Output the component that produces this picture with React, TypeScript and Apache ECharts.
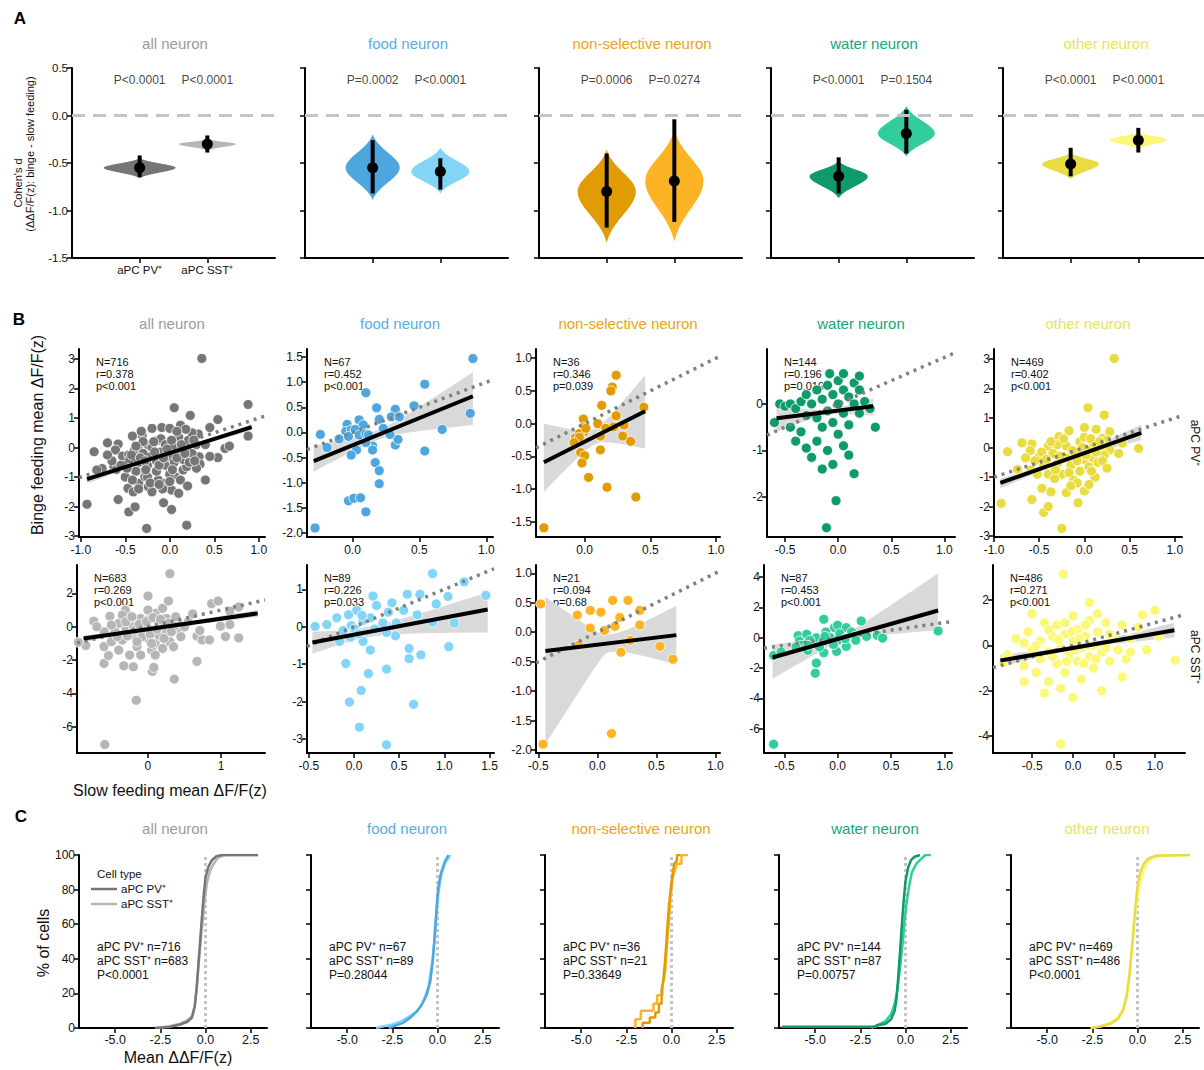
import React, { useEffect, useRef } from "react";
import * as echarts from "echarts";

const FONT = '"Liberation Sans", Arial, Helvetica, sans-serif';

// ---------- shared ----------
const groups = ["all neuron", "food neuron", "non-selective neuron", "water neuron", "other neuron"];
const titleColors = ["#9b9b9b", "#55aee6", "#eba414", "#17a67a", "#e6e35c"];
const pvColors = ["#767676", "#4ea6df", "#e19c04", "#0e9a6b", "#e8dc40"];
const sstColors = ["#b6b6b6", "#82d5f6", "#fcb424", "#33cc9d", "#fbf777"];

// ---------- A: Cohen's d violins ----------
const violinMean = [[-0.55, -0.30], [-0.55, -0.59], [-0.80, -0.69], [-0.64, -0.19], [-0.51, -0.26]];
const ciLow = [[-0.65, -0.39], [-0.82, -0.78], [-1.18, -1.12], [-0.82, -0.40], [-0.64, -0.39]];
const ciHigh = [[-0.42, -0.21], [-0.26, -0.45], [-0.40, -0.04], [-0.44, 0.06], [-0.34, -0.13]];
const violinTop = [[-0.45, -0.25], [-0.20, -0.34], [-0.36, -0.15], [-0.48, 0.10], [-0.39, -0.17]];
const violinBottom = [[-0.66, -0.37], [-0.89, -0.82], [-1.34, -1.33], [-0.87, -0.43], [-0.67, -0.35]];
const violinWidth = [[0.53, 0.42], [0.40, 0.43], [0.43, 0.43], [0.43, 0.42], [0.42, 0.42]];
const pLabels = [
  ["P<0.0001", "P<0.0001"],
  ["P=0.0002", "P<0.0001"],
  ["P=0.0006", "P=0.0274"],
  ["P<0.0001", "P=0.1504"],
  ["P<0.0001", "P<0.0001"],
];
const cellTypes = ["aPC PV⁺", "aPC SST⁺"];
const aYTicks = [-1.5, -1, -0.5, 0, 0.5];

// ---------- B: scatter ----------
const allPV = [
  [0.36, 3.02], [0.88, 1.46], [0.05, 1.35], [0.23, 1.09], [0.54, 0.95], [0.12, 0.76], [-0.09, 0.68], [-0.2, 0.65],
  [0.0, 0.65], [-0.31, 0.42], [-0.42, 0.39], [-0.7, 0.16], [-0.58, 0.12], [-0.85, -0.14], [-0.61, -0.08], [-0.53, -0.29],
  [-0.46, -0.25], [-0.35, -0.08], [-0.24, 0.08], [-0.13, 0.25], [0.21, 0.25], [0.32, 0.46], [0.45, 0.68], [0.33, -0.31],
  [0.34, -0.56], [0.4, -1.1], [0.54, -0.34], [0.62, -0.03], [0.67, 0.05], [0.88, 0.39], [-0.76, -0.71], [-0.82, -0.76],
  [-0.6, -0.74], [-0.46, -0.54], [-0.47, -1.38], [-0.41, -1.5], [-0.35, -1.21], [-0.28, -0.99], [-0.24, -1.33], [-0.2, -1.5],
  [-0.13, -1.1], [-0.05, -1.21], [0.02, -1.44], [0.1, -1.55], [0.06, -0.99], [0.15, -0.76], [0.19, -0.65], [-0.93, -1.92],
  [-0.58, -1.76], [-0.46, -2.18], [-0.39, -2.01], [-0.26, -2.74], [-0.07, -1.87], [0.02, -2.1], [0.19, -2.63],
  [-0.45, -0.4], [-0.4, -0.1], [-0.35, -0.5], [-0.3, -0.2], [-0.3, 0.2], [-0.25, -0.6], [-0.2, -0.3], [-0.2, 0.0],
  [-0.15, -0.8], [-0.15, -0.45], [-0.1, -0.15], [-0.1, 0.3], [-0.05, -0.6], [-0.05, 0.1], [0.0, -0.3], [0.0, -0.9],
  [0.05, 0.0], [0.05, -0.5], [0.1, -0.2], [0.1, 0.35], [0.15, -0.4], [0.2, 0.0], [0.25, -0.2], [0.25, 0.5], [0.3, 0.1],
  [0.3, -0.7], [-0.38, -0.8], [-0.5, -1.0], [-0.42, -1.1], [-0.25, -1.0], [0.12, -1.1], [0.2, -1.3], [-0.08, -1.4],
  [-0.32, 0.55], [0.18, 0.62], [0.08, 0.55],
  [-0.48, -0.7], [-0.43, -0.25], [-0.38, 0.05], [-0.33, -0.35], [-0.28, -0.45], [-0.27, -0.75], [-0.22, -1.2],
  [-0.18, 0.2], [-0.17, -0.15], [-0.12, -0.6], [-0.07, -0.35], [-0.03, -0.05], [0.02, 0.25], [0.03, -0.75],
  [0.08, -0.35], [0.13, 0.1], [0.17, -0.2], [0.22, -0.5], [0.27, 0.25], [0.28, -0.45], [-0.55, -0.6], [-0.65, -0.45],
  [-0.7, -0.25], [0.4, 0.1], [0.45, -0.3], [-0.12, -1.25], [0.0, -1.15], [-0.35, -1.4],
];
const foodPV = [
  [0.9, 1.47], [0.54, 0.96], [0.1, 0.79], [0.18, 0.49], [0.46, 0.53], [0.32, 0.46], [0.29, 0.31], [0.35, 0.31],
  [0.2, 0.26], [0.05, 0.25], [0.08, 0.15], [-0.04, 0.16], [-0.24, -0.04], [-0.1, -0.13], [-0.19, -0.3], [0.88, 0.38],
  [0.67, 0.06], [0.54, -0.37], [0.32, -0.25], [0.34, -0.14], [0.28, -0.04], [0.23, 0.08], [0.15, -0.27], [0.15, -0.35],
  [0.1, -0.2], [0.03, -0.35], [-0.01, -0.45], [0.17, -0.6], [0.2, -0.76], [0.2, -1.02], [-0.03, -1.36], [0.01, -1.31],
  [0.06, -1.3], [0.1, -1.58], [-0.28, -1.9], [-0.05, 0.02], [-0.01, 0.05], [0.02, 0.06], [0.05, -0.05], [-0.03, -0.08],
  [0.1, -0.03], [0.12, -0.05],
];
const nonselPV = [
  [-0.31, -1.59], [0.24, 0.74], [0.21, 0.56], [0.2, 0.5], [0.13, 0.28], [0.45, 0.25], [0.24, 0.12], [-0.01, 0.07],
  [0.1, 0.0], [0.22, -0.05], [0.16, -0.07], [0.3, -0.02], [0.29, -0.19], [0.12, -0.19], [0.0, -0.05], [0.0, -0.12],
  [-0.04, -0.15], [-0.07, -0.22], [-0.04, -0.21], [-0.08, -0.29], [0.35, -0.27], [0.12, -0.4], [-0.03, -0.44],
  [0.0, -0.49], [-0.02, -0.6], [0.03, -0.82], [0.17, -0.97], [0.39, -1.12], [0.01, -0.07],
];
const waterPV = [
  [-0.55, 0.0], [-0.5, -0.05], [-0.45, 0.0], [-0.4, -0.1], [-0.35, 0.05], [-0.3, 0.2], [-0.3, -0.25], [-0.25, 0.0],
  [-0.2, 0.3], [-0.2, -0.3], [-0.15, 0.1], [-0.15, -0.5], [-0.1, 0.4], [-0.1, -0.15], [-0.05, 0.2], [-0.05, -0.4],
  [0.0, 0.0], [0.0, 0.5], [0.0, -0.65], [0.05, 0.3], [0.05, -0.2], [0.1, 0.15], [0.1, -0.45], [0.15, 0.0], [0.15, 0.45],
  [0.2, -0.2], [0.2, 0.3], [0.25, 0.05], [0.3, -0.1], [0.35, -0.5], [-0.45, -0.5], [-0.4, -0.8], [-0.35, -0.6],
  [-0.3, -0.95], [-0.25, -1.15], [-0.2, -0.8], [-0.1, -1.0], [-0.05, -1.3], [0.05, -0.9], [0.1, -1.1], [0.15, -1.5],
  [-0.15, -1.4], [0.2, 0.6], [-0.08, 0.65], [0.05, 0.65], [-0.6, -0.4], [-0.02, -2.08], [-0.11, -2.66],
];
const otherPV = [
  [0.33, 3.02], [0.04, 1.35], [0.22, 1.1], [0.0, 0.68], [0.13, 0.62], [0.28, 0.54], [-0.17, 0.57], [-0.28, 0.37],
  [-0.4, 0.05], [-0.58, 0.12], [-0.69, 0.16], [-0.85, -0.14], [0.6, -0.03], [-0.74, -0.74], [-0.59, -0.76],
  [-0.47, -1.38], [-0.37, -1.5], [-0.2, -1.53], [0.0, -1.47], [0.11, -0.99], [-0.92, -1.89], [-0.58, -1.76],
  [-0.45, -2.2], [-0.4, -2.0], [-0.07, -1.87], [-0.25, -2.74], [0.2, 0.31], [0.28, -0.08],
  [-0.5, -0.3], [-0.45, -0.6], [-0.4, -0.9], [-0.35, -0.2], [-0.3, -0.55], [-0.3, 0.1], [-0.25, -0.9], [-0.2, -0.35],
  [-0.2, 0.05], [-0.15, -0.6], [-0.12, -1.1], [-0.1, -0.2], [-0.05, 0.2], [-0.05, -0.8], [0.0, -0.4], [0.0, 0.35],
  [0.05, -0.1], [0.05, -0.65], [0.1, 0.15], [0.1, -0.35], [0.15, -0.5], [0.18, 0.0], [0.22, -0.25], [0.25, 0.25],
  [0.12, -1.0], [-0.33, -1.05], [-0.08, -1.2], [-0.55, -0.45], [-0.6, -0.1],
  [-0.47, -0.15], [-0.42, -0.4], [-0.37, 0.2], [-0.32, -0.75], [-0.27, -0.3], [-0.23, 0.3], [-0.17, -0.85], [-0.13, -0.1],
  [-0.08, -0.45], [-0.02, 0.0], [0.02, -0.25], [0.07, 0.3], [0.08, -0.8], [0.13, -0.15], [0.17, 0.2], [0.2, -0.45],
  [0.25, -0.7], [-0.65, -0.35], [-0.52, -0.9], [0.38, -0.2], [0.42, 0.15], [-0.15, -1.3], [0.05, -1.25],
];
const allSST = [
  [0.3, 3.18], [-0.59, -7.06], [-0.16, -4.41], [0.36, -3.14], [0.67, -2.08], [0.06, -2.68], [0.08, -2.44], [-0.33, -2.34],
  [-0.2, -2.4], [-0.6, -2.2], [-0.54, -1.73], [0.0, 1.84], [0.87, 1.38], [0.96, 1.54], [0.28, 1.54], [-0.74, 0.33],
  [-0.52, 0.63], [-0.31, 0.98], [-0.85, -1.13], [-0.95, -0.93], [-0.6, -1.19], [0.67, -0.57], [0.74, -0.79], [0.84, -0.79],
  [1.06, -0.59], [1.24, -0.67], [1.12, 0.13], [0.99, 0.03], [1.24, 1.18], [1.12, 0.94], [0.44, -0.23], [0.71, -0.23],
  [0.61, 0.77], [0.55, 0.27], [0.35, -0.03],
  [-0.45, -0.3], [-0.4, 0.2], [-0.35, -0.8], [-0.3, -0.2], [-0.25, 0.4], [-0.2, -0.5], [-0.2, 0.0], [-0.15, -1.2],
  [-0.1, 0.5], [-0.1, -0.3], [-0.05, 0.1], [0.0, -0.7], [0.0, 0.4], [0.05, -0.2], [0.1, 0.8], [0.1, -1.0], [0.15, 0.2],
  [0.15, -0.5], [0.2, 0.0], [0.25, 0.5], [0.25, -0.4], [0.3, -0.9], [-0.4, -1.4], [-0.25, -1.7], [-0.1, -1.7],
  [0.05, -1.4], [0.1, -1.7], [0.2, -1.3], [0.35, -1.2], [-0.5, -0.9], [-0.6, -0.3], [-0.7, 0.0], [0.4, 0.3],
  [0.45, -0.6], [-0.35, 0.7], [0.0, 1.0], [0.2, 1.1],
  [-0.3, 0.3], [-0.28, -0.55], [-0.22, 0.6], [-0.18, -0.2], [-0.12, 0.15], [-0.08, -0.6], [-0.02, 0.3], [0.03, -0.45],
  [0.07, 0.55], [0.12, -0.15], [0.17, 0.45], [0.22, -0.7], [0.28, 0.2], [0.32, -0.3], [-0.42, -0.6], [-0.5, 0.1],
  [0.38, 0.6], [0.5, 0.0], [-0.15, -0.9], [0.05, -1.0],
];
const foodSST = [
  [0.87, 1.42], [1.22, 1.2], [1.46, 0.84], [0.59, 0.87], [0.73, 0.87], [1.04, 0.81], [0.91, 0.61], [0.21, 0.82],
  [0.42, 0.64], [0.25, 0.57], [0.55, 0.44], [0.03, 0.44], [-0.06, 0.32], [-0.19, 0.24], [-0.3, 0.06], [-0.43, 0.01],
  [0.7, 0.32], [0.87, 0.12], [1.11, 0.1], [0.38, 0.39], [0.47, 0.1], [0.32, 0.1], [0.18, 0.24], [0.1, 0.17], [0.09, 0.3],
  [-0.03, 0.03], [-0.12, -0.1], [-0.16, -0.39], [0.1, -0.39], [0.18, -0.62], [0.46, -0.24], [0.36, -0.15], [0.23, -0.06],
  [0.61, -0.58], [0.61, -0.85], [0.74, -0.75], [1.05, -0.53], [-0.09, -0.98], [0.16, -1.25], [0.36, -1.13],
  [0.08, -1.7], [-0.05, -2.01], [0.66, -2.07], [0.06, -2.68], [0.36, -3.15], [0.01, -0.06], [0.05, -0.19], [-0.04, -0.28],
];
const nonselSST = [
  [-0.48, 0.48], [-0.46, -1.9], [0.12, -1.72], [0.64, -0.46], [0.53, -0.24], [-0.17, 0.29], [-0.06, 0.37], [0.03, 0.34],
  [0.13, 0.54], [0.19, 0.25], [0.26, 0.54], [0.36, 0.37], [-0.06, 0.07], [0.06, 0.03], [0.15, 0.1], [0.28, -0.14],
  [0.36, 0.12], [-0.16, -0.22], [0.2, -0.34],
];
const waterSST = [
  [-0.6, -7.02], [-0.6, -1.17], [-0.53, -0.95], [0.94, 0.45], [-0.13, 1.22], [0.22, 1.11], [-0.21, -2.34], [-0.2, -1.67],
  [-0.13, -0.99], [-0.01, -0.9], [0.08, -0.57], [-0.37, 0.14], [-0.29, 0.23], [-0.36, -0.22], [-0.34, -0.5],
  [-0.28, -0.83], [-0.2, -0.39], [-0.2, 0.0], [-0.11, 0.38], [-0.03, 0.67], [0.0, 0.82], [0.08, 0.67], [0.13, 0.38],
  [0.16, 0.09], [0.17, -0.17], [0.27, 0.09], [0.37, 0.16], [0.42, -0.02], [-0.07, 0.0], [0.0, -0.17], [0.02, 0.27],
  [-0.14, -0.28], [-0.26, -0.17], [-0.04, -0.44], [0.07, -0.06], [-0.12, 0.09], [-0.17, -0.61], [-0.39, -0.61],
  [-0.28, -0.5],
];
const otherSST = [
  [-0.12, 3.15], [-0.15, -4.35], [-0.85, -0.75], [-0.8, -0.4], [-0.7, 0.3], [-0.6, -0.9], [-0.55, 0.6], [-0.5, -0.2],
  [-0.45, -1.2], [-0.4, 0.2], [-0.4, -0.6], [-0.35, 1.0], [-0.3, -0.3], [-0.3, -1.6], [-0.25, 0.4], [-0.2, -0.8],
  [-0.2, 0.9], [-0.15, -0.1], [-0.15, -1.9], [-0.1, 0.5], [-0.1, -1.2], [-0.05, -0.4], [0.0, 0.2], [0.0, 1.3],
  [0.0, -2.3], [0.05, -0.7], [0.05, 0.7], [0.1, -0.1], [0.1, -1.5], [0.15, 0.4], [0.2, -0.5], [0.2, 1.1], [0.25, 0.0],
  [0.25, -1.0], [0.3, 0.6], [0.35, -0.3], [0.4, 1.0], [0.45, -0.7], [0.5, 0.3], [0.55, -0.2], [0.6, 0.9], [0.65, -0.6],
  [0.7, 0.3], [0.8, 0.8], [0.9, -0.2], [1.0, 1.55], [1.05, 0.4], [1.25, -0.65], [-0.6, -1.6], [0.35, -2.0],
  [-0.35, -2.1], [0.6, -1.4], [0.85, 1.35], [0.2, 1.9], [-0.5, 1.4],
  [-0.25, -0.5], [-0.18, 0.25], [-0.08, -0.7], [-0.02, 0.6], [0.02, -0.2], [0.08, 0.3], [0.13, -0.8], [0.18, 0.0],
  [0.28, -0.6], [-0.3, 0.7], [0.4, -0.1], [0.45, 0.5], [-0.45, 0.0], [-0.6, 0.1], [0.7, -0.3], [0.3, 1.4],
  [-0.1, 1.0], [0.15, 0.9],
];
const scatterPV = [allPV, foodPV, nonselPV, waterPV, otherPV];
const scatterSST = [allSST, foodSST, nonselSST, waterSST, otherSST];

// regression lines [x0, y0, x1, y1]
const regPV = [[-0.93, -1.07, 0.92, 0.69], [-0.29, -0.57, 0.9, 0.72], [-0.31, -0.59, 0.46, 0.19], [-0.58, -0.31, 0.33, -0.05], [-0.93, -1.2, 0.63, 0.5]];
const regSST = [[-0.88, -0.71, 1.5, 0.8], [-0.46, -0.42, 1.48, 0.46], [-0.44, -0.32, 0.67, -0.05], [-0.61, -1.3, 0.94, 1.8], [-0.89, -0.67, 1.24, 0.67]];
// confidence bands: [xNarrow, halfWidthNarrow, leftLo, leftHi, rightLo, rightHi]
const bandPV = [[-0.1, 0.04, -1.22, -0.95, 0.58, 0.8], [0.2, 0.1, -0.78, -0.27, 0.15, 1.2], [0.08, 0.12, -1.04, 0.0, -0.38, 0.74], [-0.1, 0.05, -0.6, -0.05, -0.25, 0.12], [-0.15, 0.05, -1.38, -1.05, 0.25, 0.78]];
const bandSST = [[0.0, 0.05, -0.92, -0.52, 0.58, 1.02], [0.15, 0.14, -0.72, -0.13, -0.15, 0.92], [0.1, 0.15, -1.9, 0.6, -0.55, 0.45], [0.05, 0.2, -2.7, -0.44, 0.5, 4.25], [0.0, 0.06, -0.95, -0.4, 0.35, 1.0]];
const statsPV = [["N=716", "r=0.378", "p<0.001"], ["N=67", "r=0.452", "p<0.001"], ["N=36", "r=0.346", "p=0.039"], ["N=144", "r=0.196", "p=0.019"], ["N=469", "r=0.402", "p<0.001"]];
const statsSST = [["N=683", "r=0.269", "p<0.001"], ["N=89", "r=0.226", "p=0.033"], ["N=21", "r=0.094", "p=0.68"], ["N=87", "r=0.453", "p<0.001"], ["N=486", "r=0.271", "p<0.001"]];
// axis ranges & ticks
const bXRange = [[[-1.02, 1.07], [-0.34, 1.05], [-0.37, 1.03], [-0.67, 1.1], [-1.0, 1.08]], [[-0.97, 1.6], [-0.52, 1.55], [-0.52, 1.04], [-0.69, 1.07], [-0.98, 1.37]]];
const bYRange = [[[-3.03, 3.34], [-2.08, 1.66], [-1.73, 1.14], [-2.86, 1.18], [-3.03, 3.34]], [[-7.57, 3.7], [-3.37, 1.65], [-2.05, 1.14], [-7.6, 4.8], [-4.75, 3.55]]];
const bXTicks = [
  [[-1, -0.5, 0, 0.5, 1], [0, 0.5, 1], [0, 0.5, 1], [-0.5, 0, 0.5, 1], [-1, -0.5, 0, 0.5, 1]],
  [[0, 1], [-0.5, 0, 0.5, 1, 1.5], [-0.5, 0, 0.5, 1], [-0.5, 0, 0.5, 1], [-0.5, 0, 0.5, 1]],
];
const bXDec = [[1, 1, 1, 1, 1], [0, 1, 1, 1, 1]];
const bYTicks = [
  [[-3, -2, -1, 0, 1, 2, 3], [-2, -1.5, -1, -0.5, 0, 0.5, 1, 1.5], [-1.5, -1, -0.5, 0, 0.5, 1], [-2, -1, 0], [-3, -2, -1, 0, 1, 2, 3]],
  [[-6, -4, -2, 0, 2], [-3, -2, -1, 0, 1], [-2, -1.5, -1, -0.5, 0, 0.5, 1], [-6, -4, -2, 0, 2, 4], [-4, -2, 0, 2]],
];
const bYDec = [[0, 1, 1, 0, 0], [0, 0, 1, 0, 0]];

// ---------- C: cumulative distributions [x, % of cells] ----------
const cdfPV = [
  [[-2.8, 0], [-2.0, 0.6], [-1.4, 2], [-1.0, 3.5], [-0.75, 6], [-0.6, 12], [-0.5, 22], [-0.4, 36], [-0.3, 50], [-0.2, 64], [-0.1, 77], [0.0, 87], [0.15, 93], [0.35, 97], [0.6, 99.3], [0.9, 100], [2.9, 100]],
  [[-2.7, 0], [-2.3, 1.5], [-1.9, 3], [-1.5, 6], [-1.2, 9], [-0.9, 13], [-0.6, 19], [-0.4, 27], [-0.25, 40], [-0.15, 55], [-0.05, 70], [0.05, 82], [0.2, 90], [0.4, 96], [0.6, 100]],
  [[-1.6, 0], [-1.6, 3], [-1.2, 3], [-1.2, 6], [-0.9, 6], [-0.9, 9], [-0.7, 9], [-0.7, 14], [-0.55, 14], [-0.55, 22], [-0.45, 28], [-0.35, 40], [-0.25, 55], [-0.15, 70], [-0.05, 80], [0.05, 88], [0.15, 95], [0.3, 97], [0.3, 100], [0.5, 100]],
  [[-6.8, 0], [-6.8, 0.7], [-1.6, 0.7], [-1.6, 1.4], [-1.1, 2.5], [-0.8, 5], [-0.6, 10], [-0.5, 17], [-0.4, 30], [-0.3, 45], [-0.2, 60], [-0.1, 74], [0.0, 85], [0.15, 93], [0.3, 97], [0.5, 99], [0.8, 100]],
  [[-2.6, 0], [-2.0, 1], [-1.5, 2.5], [-1.1, 5], [-0.8, 10], [-0.6, 18], [-0.45, 30], [-0.32, 45], [-0.2, 60], [-0.1, 72], [0.0, 82], [0.15, 90], [0.35, 95], [0.6, 98], [1.0, 99.5], [2.9, 100]],
];
const cdfSST = [
  [[-2.7, 0], [-2.0, 1], [-1.4, 2.5], [-1.0, 4.5], [-0.75, 7], [-0.6, 13], [-0.48, 24], [-0.38, 37], [-0.27, 50], [-0.15, 63], [-0.05, 74], [0.08, 84], [0.25, 91], [0.45, 95], [0.7, 98.5], [1.1, 100], [2.9, 100]],
  [[-3.4, 0], [-3.0, 1], [-2.5, 2], [-2.0, 4], [-1.5, 7], [-1.1, 10], [-0.8, 15], [-0.5, 24], [-0.3, 38], [-0.15, 52], [-0.05, 66], [0.05, 78], [0.2, 88], [0.4, 95], [0.6, 98], [0.7, 100]],
  [[-2.0, 0], [-2.0, 5], [-1.7, 5], [-1.7, 10], [-1.0, 10], [-1.0, 14], [-0.8, 14], [-0.8, 19], [-0.5, 19], [-0.5, 24], [-0.35, 33], [-0.25, 48], [-0.15, 62], [-0.05, 76], [0.05, 86], [0.15, 90], [0.3, 95], [0.55, 95], [0.55, 100], [0.9, 100]],
  [[-1.9, 0], [-1.5, 2], [-1.1, 4], [-0.8, 8], [-0.6, 14], [-0.45, 22], [-0.3, 35], [-0.15, 50], [-0.05, 62], [0.05, 72], [0.2, 82], [0.35, 90], [0.6, 95], [0.9, 98], [1.1, 100], [1.4, 100]],
  [[-2.5, 0], [-2.0, 1.2], [-1.5, 3], [-1.1, 6], [-0.8, 11], [-0.6, 20], [-0.45, 32], [-0.3, 47], [-0.18, 60], [-0.05, 72], [0.1, 82], [0.3, 90], [0.5, 95], [0.8, 98], [1.2, 99.5], [2.9, 100]],
];
const cdfStats = [
  ["aPC PV⁺ n=716", "aPC SST⁺ n=683", "P<0.0001"],
  ["aPC PV⁺ n=67", "aPC SST⁺ n=89", "P=0.28044"],
  ["aPC PV⁺ n=36", "aPC SST⁺ n=21", "P=0.33649"],
  ["aPC PV⁺ n=144", "aPC SST⁺ n=87", "P=0.00757"],
  ["aPC PV⁺ n=469", "aPC SST⁺ n=486", "P<0.0001"],
];
const cXTicks = [-5, -2.5, 0, 2.5];
const cYTicks = [0, 20, 40, 60, 80, 100];

// ---------- layout ----------
const aLeft = [72, 305, 539, 771, 1003];
const bLeft = [[79, 307, 536, 767, 994], [77, 307, 536, 764, 993]];
const bWidth = [[186, 186, 184, 188, 188], [188, 187, 184, 188, 192]];
const bTop = [349, 565];
const cLeft = [79, 311, 545, 779, 1011];

function valueAxis(gi: number, min: number, max: number, ticks: number[], dec: number, showLabels: boolean, fmt?: (v: number) => string, fontSize = 11, margin = 4) {
  return {
    type: "value",
    gridIndex: gi,
    min,
    max,
    axisLine: { show: true, onZero: false, lineStyle: { color: "#000", width: 2 } },
    axisTick: { show: true, length: 5, lineStyle: { color: "#000", width: 1.5 }, customValues: ticks },
    axisLabel: {
      show: showLabels,
      customValues: ticks,
      color: "#111",
      fontSize,
      fontFamily: FONT,
      margin,
      formatter: fmt || ((v: number) => Number(v).toFixed(dec)),
    },
    splitLine: { show: false },
  };
}

function txt(text: string, x: number, y: number, size: number, fill = "#111", align = "left", extra: any = {}) {
  return {
    type: "text",
    x,
    y,
    silent: true,
    ...extra,
    style: { text, fill, font: `${extra.bold ? "bold " : ""}${size}px ${FONT}`, textAlign: align, textVerticalAlign: "middle" },
  };
}

function buildOption() {
  const grids: any[] = [];
  const xAxes: any[] = [];
  const yAxes: any[] = [];
  const series: any[] = [];
  const graphics: any[] = [];

  // ----- A -----
  for (let i = 0; i < 5; i++) {
    const gi = grids.length;
    grids.push({ left: aLeft[i], top: 68, width: 203, height: 190, outerBoundsMode: "none" });
    xAxes.push(valueAxis(gi, 0, 3, [1, 2], 0, i === 0, (v: number) => cellTypes[Math.round(v) - 1] || "", 11.5, 6));
    yAxes.push(valueAxis(gi, -1.5, 0.5, aYTicks, 1, i === 0, undefined, 11.5, 4));
    series.push({
      type: "line",
      xAxisIndex: gi,
      yAxisIndex: gi,
      data: [[0, 0], [3, 0]],
      symbol: "none",
      silent: true,
      lineStyle: { color: "#c4c4c4", width: 3, type: [13, 8] },
    });
    const colors = [pvColors[i], sstColors[i]];
    series.push({
      type: "custom",
      xAxisIndex: gi,
      yAxisIndex: gi,
      silent: true,
      data: [0, 1].map((k) => [k + 1, violinMean[i][k], ciLow[i][k], ciHigh[i][k], violinTop[i][k], violinBottom[i][k], violinWidth[i][k], k]),
      renderItem: (params: any, api: any) => {
        const x = api.value(0), m = api.value(1), lo = api.value(2), hi = api.value(3);
        const top = api.value(4), bot = api.value(5), hw = api.value(6), k = api.value(7);
        const su = (top - m) / 2.2, sd = (m - bot) / 2.2;
        const right: number[][] = [], left: number[][] = [];
        const N = 60;
        for (let j = 0; j <= N; j++) {
          const y = bot + ((top - bot) * j) / N;
          const d = y - m;
          const s = d > 0 ? su : sd;
          const base = Math.exp(-0.5 * (d / s) * (d / s));
          const tail = Math.exp(-0.5 * 2.2 * 2.2);
          const w = (hw * (base - tail)) / (1 - tail);
          right.push(api.coord([x + w, y]));
          left.push(api.coord([x - w, y]));
        }
        const pts = right.concat(left.reverse());
        const c0 = api.coord([x, m]), c1 = api.coord([x, lo]), c2 = api.coord([x, hi]);
        return {
          type: "group",
          children: [
            { type: "polygon", shape: { points: pts }, style: { fill: colors[k] } },
            { type: "line", shape: { x1: c1[0], y1: c1[1], x2: c2[0], y2: c2[1] }, style: { stroke: "#000", lineWidth: 4 } },
            { type: "circle", shape: { cx: c0[0], cy: c0[1], r: 5.5 }, style: { fill: "#000" } },
          ],
        };
      },
    });
    series.push({
      type: "scatter",
      xAxisIndex: gi,
      yAxisIndex: gi,
      symbolSize: 0,
      silent: true,
      data: [[1, 0.37], [2, 0.37]],
      label: {
        show: true,
        position: "inside",
        color: "#111",
        fontSize: 12,
        fontFamily: FONT,
        formatter: (p: any) => pLabels[i][p.dataIndex],
      },
    });
    graphics.push(txt(groups[i], aLeft[i] + 103, 43, 15, titleColors[i], "center"));
  }

  // ----- B -----
  for (let r = 0; r < 2; r++) {
    for (let i = 0; i < 5; i++) {
      const gi = grids.length;
      const [xmin, xmax] = bXRange[r][i];
      const [ymin, ymax] = bYRange[r][i];
      grids.push({ left: bLeft[r][i], top: bTop[r], width: bWidth[r][i], height: 188, outerBoundsMode: "none" });
      xAxes.push(valueAxis(gi, xmin, xmax, bXTicks[r][i], bXDec[r][i], true, undefined, 12, 7));
      yAxes.push(valueAxis(gi, ymin, ymax, bYTicks[r][i], bYDec[r][i], true, undefined, 12, 4));
      const reg = r === 0 ? regPV[i] : regSST[i];
      const band = r === 0 ? bandPV[i] : bandSST[i];
      const color = r === 0 ? pvColors[i] : sstColors[i];
      series.push({
        type: "custom",
        xAxisIndex: gi,
        yAxisIndex: gi,
        silent: true,
        clip: true,
        data: [[...reg, ...band]],
        renderItem: (params: any, api: any) => {
          const x0 = api.value(0), y0 = api.value(1), x1 = api.value(2), y1 = api.value(3);
          const xm = api.value(4), h0 = api.value(5);
          const lLo = api.value(6), lHi = api.value(7), rLo = api.value(8), rHi = api.value(9);
          const lineY = (x: number) => y0 + ((y1 - y0) * (x - x0)) / (x1 - x0);
          const hw = (x: number, dEnd: number, xEnd: number) => {
            const t = (x - xm) / (xEnd - xm);
            const e = Math.max(dEnd, h0);
            return Math.sqrt(h0 * h0 + (e * e - h0 * h0) * t * t);
          };
          const up: number[][] = [], dn: number[][] = [];
          const N = 50;
          for (let j = 0; j <= N; j++) {
            const x = x0 + ((x1 - x0) * j) / N;
            const isLeft = x < xm;
            const xEnd = isLeft ? x0 : x1;
            const dU = isLeft ? lHi - lineY(x0) : rHi - lineY(x1);
            const dD = isLeft ? lineY(x0) - lLo : lineY(x1) - rLo;
            const yl = lineY(x);
            up.push(api.coord([x, yl + hw(x, dU, xEnd)]));
            dn.push(api.coord([x, yl - hw(x, dD, xEnd)]));
          }
          return { type: "polygon", shape: { points: up.concat(dn.reverse()) }, style: { fill: "#d9d9d9" } };
        },
      });
      series.push({
        type: "scatter",
        xAxisIndex: gi,
        yAxisIndex: gi,
        silent: true,
        symbolSize: 10,
        data: r === 0 ? scatterPV[i] : scatterSST[i],
        itemStyle: { color, borderColor: "#ffffff", borderWidth: 0.8, opacity: 1 },
      });
      series.push({
        type: "line",
        xAxisIndex: gi,
        yAxisIndex: gi,
        silent: true,
        symbol: "none",
        data: [[xmin, xmin], [xmax, xmax]],
        lineStyle: { color: "#808080", width: 3.5, type: [3, 5] },
      });
      series.push({
        type: "line",
        xAxisIndex: gi,
        yAxisIndex: gi,
        silent: true,
        symbol: "none",
        data: [[reg[0], reg[1]], [reg[2], reg[3]]],
        lineStyle: { color: "#000", width: 4 },
      });
      const st = r === 0 ? statsPV[i] : statsSST[i];
      st.forEach((s, k) => graphics.push(txt(s, bLeft[r][i] + 17, bTop[r] + 13 + k * 12, 11, "#111")));
      if (r === 0) {
        graphics.push(txt(groups[i], bLeft[r][i] + bWidth[r][i] / 2, 323, 15, titleColors[i], "center"));
      }
    }
  }

  // ----- C -----
  for (let i = 0; i < 5; i++) {
    const gi = grids.length;
    grids.push({ left: cLeft[i], top: 855, width: 188, height: 173, outerBoundsMode: "none" });
    xAxes.push(valueAxis(gi, -7.0, 3.4, cXTicks, 1, true, undefined, 12.5, 5));
    yAxes.push(valueAxis(gi, 0, 100, cYTicks, 0, i === 0, undefined, 12, 4));
    series.push({
      type: "line",
      xAxisIndex: gi,
      yAxisIndex: gi,
      silent: true,
      symbol: "none",
      data: [[0, 0], [0, 100]],
      lineStyle: { color: "#c4c4c4", width: 3, type: [3, 3] },
    });
    series.push({
      type: "line",
      xAxisIndex: gi,
      yAxisIndex: gi,
      silent: true,
      symbol: "none",
      data: cdfSST[i],
      lineStyle: { color: sstColors[i], width: 2.5 },
    });
    series.push({
      type: "line",
      xAxisIndex: gi,
      yAxisIndex: gi,
      silent: true,
      symbol: "none",
      data: cdfPV[i],
      lineStyle: { color: pvColors[i], width: 2.5 },
    });
    cdfStats[i].forEach((s, k) => graphics.push(txt(s, cLeft[i] + 18, 947 + k * 14, 12, "#111")));
    graphics.push(txt(groups[i], cLeft[i] + 96, 828, 15, titleColors[i], "center"));
  }

  // legend (C, first panel)
  graphics.push(txt("Cell type", 97, 874, 11.5, "#111"));
  graphics.push({ type: "line", silent: true, shape: { x1: 91, y1: 889, x2: 117, y2: 889 }, style: { stroke: pvColors[0], lineWidth: 2.5 } });
  graphics.push({ type: "line", silent: true, shape: { x1: 91, y1: 904, x2: 117, y2: 904 }, style: { stroke: sstColors[0], lineWidth: 2.5 } });
  graphics.push(txt(cellTypes[0], 121, 889, 11.5, "#111"));
  graphics.push(txt(cellTypes[1], 121, 904, 11.5, "#111"));

  // panel letters and axis titles
  graphics.push(txt("A", 20, 18, 17, "#000", "center", { bold: true }));
  graphics.push(txt("B", 19, 319, 17, "#000", "center", { bold: true }));
  graphics.push(txt("C", 21, 816, 17, "#000", "center", { bold: true }));
  graphics.push(txt("Cohen's d", 18, 183, 11, "#111", "center", { rotation: Math.PI / 2 }));
  graphics.push(txt("(ΔΔF/F(z): binge - slow feeding)", 30, 154, 11, "#111", "center", { rotation: Math.PI / 2 }));
  graphics.push(txt("Binge feeding mean ΔF/F(z)", 37, 435, 16, "#111", "center", { rotation: Math.PI / 2 }));
  graphics.push(txt("Slow feeding mean ΔF/F(z)", 170, 790, 16, "#111", "center"));
  graphics.push(txt("% of cells", 43, 943, 16, "#111", "center", { rotation: Math.PI / 2 }));
  graphics.push(txt("Mean ΔΔF/F(z)", 178, 1057, 16, "#111", "center"));
  graphics.push(txt("aPC PV⁺", 1195, 443, 12, "#111", "center", { rotation: -Math.PI / 2 }));
  graphics.push(txt("aPC SST⁺", 1195, 657, 12, "#111", "center", { rotation: -Math.PI / 2 }));

  return {
    animation: false,
    backgroundColor: "#ffffff",
    textStyle: { fontFamily: FONT },
    grid: grids,
    xAxis: xAxes,
    yAxis: yAxes,
    series,
    graphic: graphics,
  };
}

export default function App() {
  const ref = useRef<HTMLDivElement>(null);
  useEffect(() => {
    document.body.style.margin = "0";
    const chart = echarts.init(ref.current as HTMLDivElement, undefined, { renderer: "svg" });
    chart.setOption(buildOption() as any);
    return () => chart.dispose();
  }, []);
  return <div ref={ref} style={{ width: 1204, height: 1070 }} />;
}
